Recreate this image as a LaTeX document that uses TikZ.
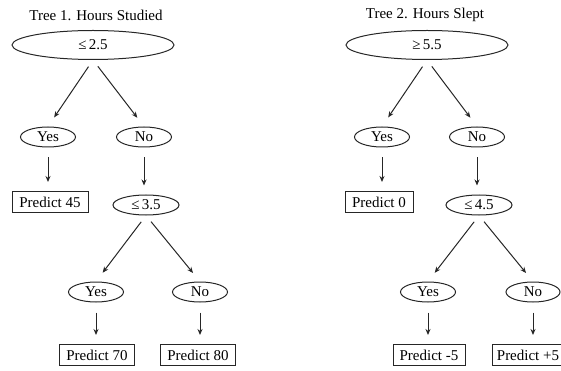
\documentclass[tikz,border=0pt]{standalone}
\usepackage{fontspec}
\setmainfont{Liberation Serif}
\usepackage{tikz}
\usetikzlibrary{arrows.meta,shapes.geometric}

\tikzset{
  test/.style={draw=black!85, line width=1pt, ellipse, inner sep=0pt, minimum width=#1, minimum height=20pt},
  leaf/.style={draw=black!85, line width=1pt, rectangle, inner sep=0pt, minimum width=#1, minimum height=21pt},
  arr/.style={draw=black!85, line width=1pt, -{Stealth[length=6pt,width=5pt]}, shorten <=8pt, shorten >=11pt},
  down/.style={draw=black!85, line width=1pt, -{Stealth[length=6pt,width=5pt]}, shorten <=10pt, shorten >=9pt}
}

\begin{document}
\begin{tikzpicture}[x=1pt, y=-1pt, font=\fontsize{15}{18}\selectfont]
\useasboundingbox (0,0) rectangle (561,371);
\node (t1) at (96,15) {Tree 1. Hours Studied};
\node[test=162, minimum height=29pt] (r1) at (93,45) {≤\,2.5};
\node[test=55] (y1) at (48,137) {Yes};
\node[test=55] (n1) at (144,137) {No};
\node[leaf=76] (p45) at (50,202) {Predict 45};
\node[test=66] (s1) at (146,205) {≤\,3.5};
\node[test=55] (y1b) at (96,292) {Yes};
\node[test=55] (n1b) at (200,292) {No};
\node[leaf=75] (p70) at (97,355) {Predict 70};
\node[leaf=75] (p80) at (198,355) {Predict 80};
\draw[arr] (r1.south) -- (y1.north);
\draw[arr] (r1.south) -- (n1.north);
\draw[down] (y1.south) -- (y1.south |- p45.north);
\draw[down] (n1.south) -- (n1.south |- s1.north);
\draw[arr] (s1.south) -- (y1b.north);
\draw[arr] (s1.south) -- (n1b.north);
\draw[down] (y1b.south) -- (y1b.south |- p70.north);
\draw[down] (n1b.south) -- (n1b.south |- p80.north);

\node (t2) at (425,15) {Tree 2. Hours Slept};
\node[test=162, minimum height=29pt] (r2) at (427,45) {≥\,5.5};
\node[test=55] (y2) at (382,137) {Yes};
\node[test=55] (n2) at (477,137) {No};
\node[leaf=68] (p0) at (379,202) {Predict 0};
\node[test=66] (s2) at (479,205) {≤\,4.5};
\node[test=55] (y2b) at (428,292) {Yes};
\node[test=54] (n2b) at (533,292) {No};
\node[leaf=72] (pm5) at (429,355) {Predict -5};
\node[leaf=72] (pp5) at (528,355) {Predict +5};
\draw[arr] (r2.south) -- (y2.north);
\draw[arr] (r2.south) -- (n2.north);
\draw[down] (y2.south) -- (y2.south |- p0.north);
\draw[down] (n2.south) -- (n2.south |- s2.north);
\draw[arr] (s2.south) -- (y2b.north);
\draw[arr] (s2.south) -- (n2b.north);
\draw[down] (y2b.south) -- (y2b.south |- pm5.north);
\draw[down] (n2b.south) -- (n2b.south |- pp5.north);
\end{tikzpicture}
\end{document}
